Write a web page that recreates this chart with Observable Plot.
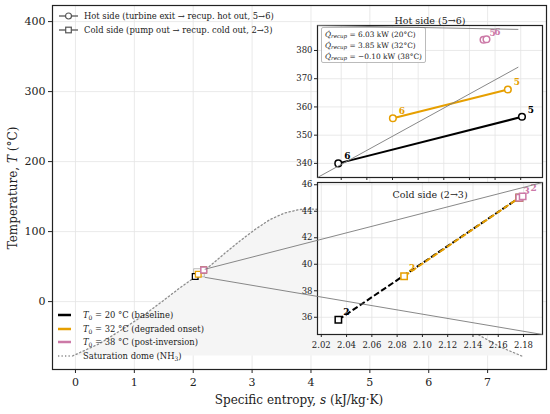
<!DOCTYPE html>
<html><head><meta charset="utf-8">
<script src="https://cdn.jsdelivr.net/npm/d3@7"></script>
<script src="https://cdn.jsdelivr.net/npm/@observablehq/plot@0.6"></script>
<style>
body{margin:0;background:#fff;}
#fig{position:relative;width:550px;height:414px;font-family:"DejaVu Serif",serif;color:#222;overflow:hidden;background:#fff;}
#fig svg{position:absolute;}
.leg{position:absolute;font-size:8.4px;white-space:nowrap;}
.row{position:absolute;left:0;height:12px;display:flex;align-items:center;}
.row svg{position:static !important;margin-right:5px;}
.qbox{position:absolute;border:0.8px solid #bbb;border-radius:2px;background:rgba(255,255,255,0.85);font-size:7.4px;padding:1px 3px 0 3px;line-height:11px;white-space:nowrap;}
.qbox sub{font-size:5.5px;vertical-align:-1px;line-height:0;}
.leg sub{font-size:6px;vertical-align:-1.5px;line-height:0;}
.axlab{position:absolute;font-size:12px;white-space:nowrap;}
</style></head><body><div id="fig"></div>
<script>
// ---------------- data ----------------
const caseT0 = ["20", "32", "38"];
const caseNotes = ["baseline", "degraded onset", "post-inversion"];
const caseColors = ["#000000", "#E69F00", "#CC79A7"];
const qRecup = ["6.03", "3.85", "\u22120.10"];

// hot side: turbine exit (5) -> recup. hot out (6)
const hotS5 = [7.681, 7.670, 7.6510];
const hotT5 = [356.5, 366.2, 383.8];
const hotS6 = [7.5377, 7.5803, 7.6533];
const hotT6 = [340.0, 356.0, 384.0];

// cold side: pump out (2) -> recup. cold out (3)
const coldS2 = [2.0335, 2.0855, 2.1766];
const coldT2 = [35.81, 39.10, 45.02];
const coldS3 = [2.1766, 2.1766, 2.1793];
const coldT3 = [45.02, 45.02, 45.12];

// NH3 saturation dome
const domeS = [-0.05, 0.41, 0.79, 1.15, 1.47, 1.78, 2.03, 2.30, 2.55, 2.80, 3.05, 3.30, 3.55, 3.80, 4.00,
               4.20, 4.45, 4.70, 4.95, 5.15, 5.35, 5.55, 5.75, 6.09, 6.30, 6.50, 6.90, 7.22, 7.58];
const domeT = [-77.7, -60, -40, -20, 0, 20, 35, 52, 70, 87, 103, 117, 126.5, 131.5, 132.3,
               131.5, 127, 118, 103, 86, 66, 45, 25, 0, -15, -30, -50, -65, -77.7];
const T_TRIPLE = -77.7;

// axes
const mainXTicks = [0, 1, 2, 3, 4, 5, 6, 7];
const mainYTicks = [0, 100, 200, 300, 400];
const X_MAIN = [-0.39, 8.0];
const Y_MAIN = [-97, 423];
const hotXTicks = [7.54, 7.56, 7.58, 7.60, 7.62, 7.64, 7.66, 7.68];
const hotYTicks = [340, 350, 360, 370, 380];
const HOT_X = [7.5215, 7.697];
const HOT_Y = [335, 388.85];
const coldXTicks = [2.02, 2.04, 2.06, 2.08, 2.10, 2.12, 2.14, 2.16, 2.18];
const coldYTicks = [36, 38, 40, 42, 44, 46];
const COLD_X = [2.017, 2.195];
const COLD_Y = [34.7, 46.17];

// ---------------- tables ----------------
const last = caseT0.length - 1;
const dome = domeS.map((s, i) => ({s, T: domeT[i]}));
const hotCases = caseT0.map((c, i) => ({color: caseColors[i], s5: hotS5[i], T5: hotT5[i], s6: hotS6[i], T6: hotT6[i]}));
const coldCases = caseT0.map((c, i) => ({color: caseColors[i], s2: coldS2[i], T2: coldT2[i], s3: coldS3[i], T3: coldT3[i]}));
// pos: label placement group ("n" normal, "r" nudged right, "l" nudged left/low, null hidden)
const hotPts = hotCases.flatMap((d, i) => [
  {s: d.s5, T: d.T5, label: "5", color: d.color, pos: "n"},
  {s: d.s6, T: d.T6, label: "6", color: d.color, pos: i === last ? "r" : "n"}]);
// end points (3) of the first cases coincide with the last case's 2 and are covered by it
const coldPts = coldCases.flatMap((d, i) => [
  {s: d.s2, T: d.T2, label: "2", color: d.color, pos: i === last ? "r" : "n"},
  {s: d.s3, T: d.T3, label: "3", color: d.color, pos: i === last ? "l" : null}]);
const zoomRects = [{x1: HOT_X[0], x2: HOT_X[1], y1: HOT_Y[0], y2: HOT_Y[1]}, {x1: COLD_X[0], x2: COLD_X[1], y1: COLD_Y[0], y2: COLD_Y[1]}];

// ---------------- layout ----------------
const W = 550, H = 414;
const M = {l: 52, r: 4, t: 5, b: 45};
const INS = {l: 317, r: 542, hotT: 25, hotB: 177, coldT: 182, coldB: 334};
const fig = document.getElementById("fig");
const baseStyle = {fontFamily: "DejaVu Serif", background: "transparent", color: "#222", overflow: "visible"};
const gridStyle = {stroke: "#e3e3e3", strokeOpacity: 1, strokeWidth: 0.8};
const labelStyle = {x: "s", y: "T", text: "label", fill: "color", fontWeight: "bold", fontSize: 9};

function place(el, left, top) {
  el.style.left = left + "px"; el.style.top = top + "px"; el.style.position = "absolute";
  fig.appendChild(el); return el;
}

// ---------------- main axes ----------------
const main = Plot.plot({
  width: W, height: H, marginLeft: M.l, marginRight: M.r, marginTop: M.t, marginBottom: M.b,
  style: baseStyle,
  x: {domain: X_MAIN}, y: {domain: Y_MAIN},
  marks: [
    Plot.gridX(mainXTicks, gridStyle),
    Plot.gridY(mainYTicks, gridStyle),
    Plot.areaY(dome, {x: "s", y1: T_TRIPLE, y2: "T", fill: "#f5f5f5"}),
    Plot.line(dome, {x: "s", y: "T", stroke: "#8c8c8c", strokeWidth: 1.3, strokeDasharray: "1.3,2.6"}),
    Plot.rect(zoomRects, {x1: "x1", x2: "x2", y1: "y1", y2: "y2", fill: "none", stroke: "#aaa", strokeWidth: 0.8}),
    Plot.link(coldCases, {x1: "s2", y1: "T2", x2: "s3", y2: "T3", stroke: "color", strokeWidth: 1.5}),
    Plot.dot(coldPts, {x: "s", y: "T", symbol: "square", r: 3.2, fill: "white", stroke: "color", strokeWidth: 1.3}),
    Plot.link(hotCases, {x1: "s5", y1: "T5", x2: "s6", y2: "T6", stroke: "color", strokeWidth: 1.5}),
    Plot.dot(hotPts, {x: "s", y: "T", symbol: "circle", r: 3, fill: "white", stroke: "color", strokeWidth: 1.3}),
    Plot.frame({stroke: "#222", strokeWidth: 1.2}),
    Plot.axisX(mainXTicks, {tickSize: 4, fontSize: 11, tickPadding: 5, label: null}),
    Plot.axisY(mainYTicks, {tickSize: 4, fontSize: 11, tickPadding: 3, label: null})
  ]
});
place(main, 0, 0);

// axis labels
const xl = document.createElement("div"); xl.className = "axlab";
xl.innerHTML = "Specific entropy, <i>s</i> (kJ/kg\u00b7K)";
xl.style.left = "299px"; xl.style.top = "393px"; xl.style.transform = "translateX(-50%)";
fig.appendChild(xl);
const yl = document.createElement("div"); yl.className = "axlab";
yl.innerHTML = "Temperature, <i>T</i> (\u00b0C)";
yl.style.left = "13px"; yl.style.top = "188px"; yl.style.transform = "translate(-50%,-50%) rotate(-90deg)";
fig.appendChild(yl);

// legends
function swatch(kind, color) {
  const ns = "http://www.w3.org/2000/svg";
  const s = document.createElementNS(ns, "svg");
  if (kind === "circle" || kind === "square") {
    s.setAttribute("width", 19); s.setAttribute("height", 10);
    let h = `<line x1="0" y1="5" x2="19" y2="5" stroke="#555" stroke-width="1.3"/>`;
    h += kind === "circle" ? `<circle cx="9.5" cy="5" r="3" fill="white" stroke="#555" stroke-width="1.2"/>`
                           : `<rect x="6.7" y="2.2" width="5.6" height="5.6" fill="white" stroke="#555" stroke-width="1.2"/>`;
    s.innerHTML = h;
  } else {
    s.setAttribute("width", 14); s.setAttribute("height", 10);
    s.innerHTML = kind === "dotted"
      ? `<line x1="0" y1="5" x2="13" y2="5" stroke="#8c8c8c" stroke-width="1.3" stroke-dasharray="1.3,2.2"/>`
      : `<line x1="0" y1="5" x2="13" y2="5" stroke="${color}" stroke-width="2.5"/>`;
  }
  return s;
}
function legend(left, rows) {
  const g = document.createElement("div"); g.className = "leg";
  g.style.left = left + "px"; g.style.top = "0px";
  rows.forEach(r => {
    const d = document.createElement("div"); d.className = "row";
    d.style.top = (r.y - 6) + "px";
    d.appendChild(swatch(r.kind, r.color));
    const t = document.createElement("span"); t.innerHTML = r.html;
    t.style.marginLeft = r.gap + "px";
    d.appendChild(t); g.appendChild(d);
  });
  fig.appendChild(g);
}
legend(59, [
  {y: 15.7, kind: "circle", gap: 1, html: "Hot side (turbine exit \u2192 recup. hot out, 5\u21926)"},
  {y: 29.7, kind: "square", gap: 1, html: "Cold side (pump out \u2192 recup. cold out, 2\u21923)"}
]);
legend(58, [
  ...caseT0.map((c, i) => ({y: 315 + i * 13.6, kind: "line", color: caseColors[i], gap: 6,
     html: `<i>T</i><sub>0</sub> = ${c} \u00b0C (${caseNotes[i]})`})),
  {y: 355.7, kind: "dotted", gap: 6, html: "Saturation dome (NH<sub>3</sub>)"}
]);

// ---------------- hot inset ----------------
const hotPlot = Plot.plot({
  width: (INS.r + 4) - (INS.l - 30), height: INS.hotB + 3, marginLeft: 30, marginRight: 4, marginTop: INS.hotT, marginBottom: 3,
  style: baseStyle,
  x: {domain: HOT_X}, y: {domain: HOT_Y},
  marks: [
    Plot.frame({fill: "white", stroke: null}),
    Plot.gridX(hotXTicks, gridStyle),
    Plot.gridY(hotYTicks, gridStyle),
    Plot.link(hotCases, {x1: "s5", y1: "T5", x2: "s6", y2: "T6", stroke: "color", strokeWidth: 2}),
    Plot.dot(hotPts, {x: "s", y: "T", symbol: "circle", r: 3.3, fill: "white", stroke: "color", strokeWidth: 1.5}),
    Plot.text(hotPts, {...labelStyle, filter: d => d.pos === "n", dx: 9, dy: -7}),
    Plot.text(hotPts, {...labelStyle, filter: d => d.pos === "r", dx: 11, dy: -7}),
    Plot.frame({stroke: "#222", strokeWidth: 1.2}),
    Plot.axisY(hotYTicks, {tickSize: 3, fontSize: 8.5, tickPadding: 2, label: null}),
    Plot.axisX(hotXTicks, {tickSize: 3, tickFormat: () => "", label: null}),
    Plot.text(["Hot side (5\u21926)"], {text: d => d, frameAnchor: "top", dy: -8, fontSize: 9.5, fill: "#222"})
  ]
});
place(hotPlot, INS.l - 30, 0);

const qb = document.createElement("div"); qb.className = "qbox";
qb.innerHTML = caseT0.map((c, i) => `<div><i>Q\u0307</i><sub><i>recup</i></sub> = ${qRecup[i]} kW (${c}\u00b0C)</div>`).join("");
qb.style.left = "321px"; qb.style.top = "27px";
fig.appendChild(qb);

// ---------------- cold inset ----------------
const coldPlot = Plot.plot({
  width: (INS.r + 4) - (INS.l - 30), height: (INS.coldB - INS.coldT) + 2 + 20, marginLeft: 30, marginRight: 4, marginTop: 2, marginBottom: 20,
  style: baseStyle,
  x: {domain: COLD_X}, y: {domain: COLD_Y},
  marks: [
    Plot.frame({fill: "white", stroke: null}),
    Plot.gridX(coldXTicks, gridStyle),
    Plot.gridY(coldYTicks, gridStyle),
    Plot.link(coldCases, {x1: "s2", y1: "T2", x2: "s3", y2: "T3", stroke: "color", strokeWidth: 2, strokeDasharray: "6,2.6"}),
    Plot.dot(coldPts, {x: "s", y: "T", symbol: "square", r: 3.6, fill: "white", stroke: "color", strokeWidth: 1.5}),
    Plot.text(coldPts, {...labelStyle, filter: d => d.pos === "n", dx: 8, dy: -8}),
    Plot.text(coldPts, {...labelStyle, filter: d => d.pos === "l", dx: 4, dy: -5}),
    Plot.text(coldPts, {...labelStyle, filter: d => d.pos === "r", dx: 14.5, dy: -10}),
    Plot.frame({stroke: "#222", strokeWidth: 1.2}),
    Plot.axisY(coldYTicks, {tickSize: 3, fontSize: 8.5, tickPadding: 2, label: null}),
    Plot.axisX(coldXTicks, {tickSize: 3, fontSize: 8.5, tickPadding: 4, tickFormat: d => d.toFixed(2), label: null}),
    Plot.text(["Cold side (2\u21923)"], {text: d => d, frameAnchor: "top", dy: 9, fontSize: 9.5, fill: "#222"})
  ]
});
place(coldPlot, INS.l - 30, INS.coldT - 2);

// ---------------- zoom connectors ----------------
const xInv = d3.scaleLinear([M.l, W - M.r], X_MAIN);
const yInv = d3.scaleLinear([H - M.b, M.t], Y_MAIN);
const connectors = [
  {x1: HOT_X[0], y1: HOT_Y[0], x2: xInv(INS.l), y2: yInv(INS.hotB)},
  {x1: HOT_X[0], y1: HOT_Y[1], x2: xInv(INS.l), y2: yInv(INS.hotT)},
  {x1: COLD_X[1], y1: COLD_Y[1], x2: xInv(INS.r), y2: yInv(INS.coldT)},
  {x1: COLD_X[1], y1: COLD_Y[0], x2: xInv(INS.r), y2: yInv(INS.coldB)}
];
const overlay = Plot.plot({
  width: W, height: H, marginLeft: M.l, marginRight: M.r, marginTop: M.t, marginBottom: M.b,
  style: {...baseStyle, pointerEvents: "none"},
  x: {domain: X_MAIN, axis: null}, y: {domain: Y_MAIN, axis: null},
  marks: [
    Plot.link(connectors, {x1: "x1", y1: "y1", x2: "x2", y2: "y2", stroke: "#7a7a7a", strokeWidth: 0.9})
  ]
});
place(overlay, 0, 0);
</script></body></html>
